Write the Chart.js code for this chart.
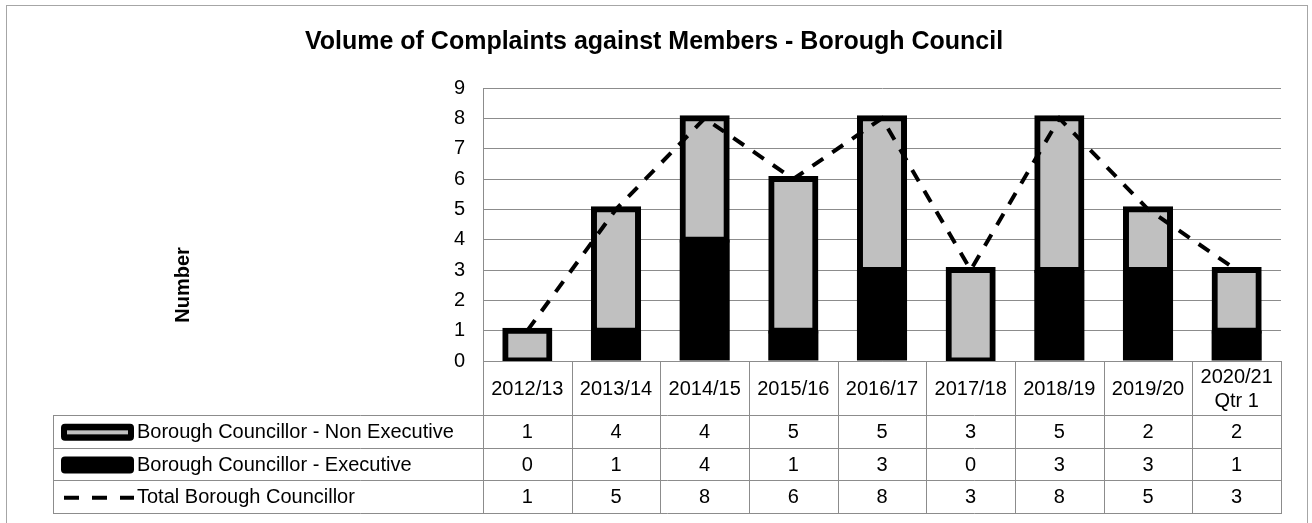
<!DOCTYPE html>
<html>
<head>
<meta charset="utf-8">
<script src="https://cdn.jsdelivr.net/npm/chart.js@4.4.1/dist/chart.umd.min.js"></script>
<style>
  html, body { margin: 0; padding: 0; background: #fff; }
  #wrap { width: 1312px; height: 523px; position: relative; }
</style>
</head>
<body>
<div id="wrap"><canvas id="grafico"></canvas></div>
<script>
const titulo = 'Volume of Complaints against Members - Borough Council';
const tituloEixoY = 'Number';
const categorias = ['2012/13', '2013/14', '2014/15', '2015/16', '2016/17', '2017/18', '2018/19', '2019/20', ['2020/21', 'Qtr 1']];
const nomesSeries = ['Borough Councillor - Non Executive', 'Borough Councillor - Executive', 'Total Borough Councillor'];
const naoExecutivo = [1, 4, 4, 5, 5, 3, 5, 2, 2];
const executivo = [0, 1, 4, 1, 3, 0, 3, 3, 1];
const total = [1, 5, 8, 6, 8, 3, 8, 5, 3];

const fonte = '"Liberation Sans", Arial, sans-serif';
const corGrade = '#8c8c8c';
const cinza = '#c0c0c0';

// desenha titulo, rotulo do eixo y, moldura e a tabela de dados
const tabelaPlugin = {
  id: 'tabela',
  afterDraw(chart) {
    const ctx = chart.ctx;
    const xs = chart.scales.x;
    const area = chart.chartArea;
    const n = categorias.length;
    const larg = (xs.right - xs.left) / n;

    const topoCab = area.bottom;
    const fimCab = 415;
    const altLinha = 32.7;
    const esq = 53;

    ctx.save();

    // moldura externa
    ctx.strokeStyle = '#a6a6a6';
    ctx.lineWidth = 1;
    ctx.strokeRect(6.5, 5.5, 1301, 540);

    // titulo
    ctx.fillStyle = '#000';
    ctx.font = 'bold 25px ' + fonte;
    ctx.textAlign = 'center';
    ctx.textBaseline = 'middle';
    ctx.fillText(titulo, 654, 42);

    // titulo do eixo y
    ctx.save();
    ctx.translate(183, 285);
    ctx.rotate(-Math.PI / 2);
    ctx.font = 'bold 20px ' + fonte;
    ctx.fillText(tituloEixoY, 0, 0);
    ctx.restore();

    // linhas da tabela
    ctx.strokeStyle = corGrade;
    ctx.lineWidth = 1;
    ctx.beginPath();
    for (let i = 0; i <= n; i++) {
      const x = Math.round(xs.left + i * larg) + 0.5;
      ctx.moveTo(x, topoCab);
      ctx.lineTo(x, fimCab + 3 * altLinha);
    }
    ctx.moveTo(esq + 0.5, fimCab);
    ctx.lineTo(esq + 0.5, fimCab + 3 * altLinha);
    for (let r = 0; r <= 3; r++) {
      const y = Math.round(fimCab + r * altLinha) + 0.5;
      ctx.moveTo(esq, y);
      ctx.lineTo(xs.right + 1, y);
    }
    ctx.stroke();

    // cabecalho com as categorias
    ctx.font = '20px ' + fonte;
    ctx.fillStyle = '#000';
    ctx.textAlign = 'center';
    const meioCab = (topoCab + fimCab) / 2 + 1;
    categorias.forEach((c, i) => {
      const cx = xs.getPixelForValue(i);
      const linhas = Array.isArray(c) ? c : [c];
      linhas.forEach((t, k) => {
        ctx.fillText(t, cx, meioCab + (k - (linhas.length - 1) / 2) * 24);
      });
    });

    // linhas de valores
    const series = [naoExecutivo, executivo, total];
    series.forEach((vals, r) => {
      const cy = fimCab + (r + 0.5) * altLinha + 1;
      ctx.textAlign = 'center';
      vals.forEach((v, i) => {
        ctx.fillText(String(v), xs.getPixelForValue(i), cy);
      });
      ctx.textAlign = 'left';
      ctx.fillText(nomesSeries[r], 137, cy);

      // chave da legenda
      if (r < 2) {
        ctx.fillStyle = '#000';
        ctx.beginPath();
        ctx.roundRect(61, cy - 8.5, 73, 17, 4);
        ctx.fill();
        if (r === 0) {
          ctx.fillStyle = cinza;
          ctx.fillRect(67, cy - 2, 61, 4);
        }
        ctx.fillStyle = '#000';
      } else {
        ctx.strokeStyle = '#000';
        ctx.lineWidth = 4;
        ctx.setLineDash([15, 13]);
        ctx.beginPath();
        ctx.moveTo(64, cy);
        ctx.lineTo(134, cy);
        ctx.stroke();
        ctx.setLineDash([]);
      }
    });

    ctx.restore();
  }
};

const ctx = document.getElementById('grafico').getContext('2d');
const chart = new Chart(ctx, {
  type: 'bar',
  data: {
    labels: categorias,
    datasets: [
      {
        type: 'line',
        label: nomesSeries[2],
        data: total,
        borderColor: '#000',
        borderWidth: 4,
        borderDash: [13, 11],
        pointRadius: 0,
        fill: false,
        tension: 0,
        stack: 'total',
        order: 0
      },
      {
        label: nomesSeries[1],
        data: executivo,
        backgroundColor: '#000',
        borderWidth: 0,
        barPercentage: 0.565,
        stack: 'barras',
        order: 1
      },
      {
        label: nomesSeries[0],
        data: naoExecutivo,
        backgroundColor: cinza,
        borderColor: '#000',
        borderWidth: 6,
        borderSkipped: false,
        barPercentage: 0.497,
        inflateAmount: 3,
        stack: 'barras',
        order: 1
      }
    ]
  },
  options: {
    responsive: true,
    maintainAspectRatio: false,
    animation: false,
    categoryPercentage: 1,
    layout: {
      padding: { left: 423, right: 31, top: 88, bottom: 162 }
    },
    scales: {
      x: {
        stacked: true,
        grid: { display: false },
        border: { display: true, color: corGrade, width: 1 },
        ticks: { display: false },
        afterFit: s => { s.height = 0; }
      },
      y: {
        stacked: true,
        min: 0,
        max: 9,
        ticks: {
          stepSize: 1,
          color: '#000',
          padding: 18,
          font: { family: fonte, size: 20 }
        },
        grid: { color: corGrade, lineWidth: 1, drawTicks: false },
        border: { color: corGrade, width: 1 },
        afterFit: s => { s.width = 60; }
      }
    },
    plugins: {
      legend: { display: false },
      title: { display: false },
      tooltip: { enabled: false }
    }
  },
  plugins: [tabelaPlugin]
});
</script>
</body>
</html>
